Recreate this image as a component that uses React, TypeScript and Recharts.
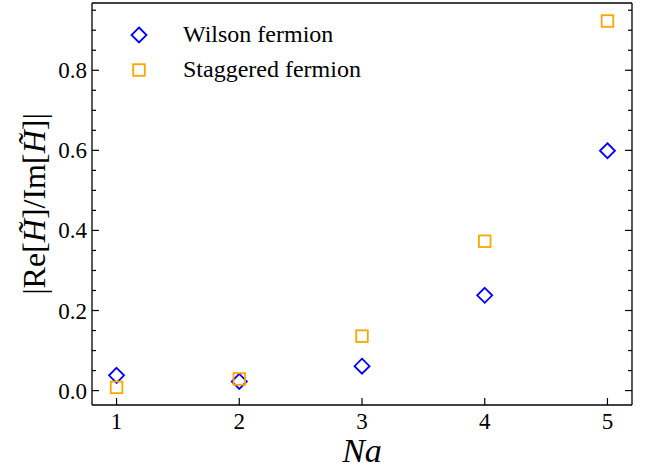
import * as React from 'react';
import { ScatterChart, Scatter, XAxis, YAxis, Legend } from 'recharts';

// ============================================================================
// Data
// ============================================================================

const naValues = [1, 2, 3, 4, 5];
const wilsonRatio = [0.038, 0.023, 0.061, 0.238, 0.599];
const staggeredRatio = [0.008, 0.029, 0.136, 0.373, 0.923];

const xTicks = [1, 2, 3, 4, 5];
const yTicks = [0, 0.05, 0.1, 0.15, 0.2, 0.25, 0.3, 0.35, 0.4, 0.45, 0.5, 0.55, 0.6, 0.65, 0.7, 0.75, 0.8, 0.85, 0.9, 0.95];
const yMajorTicks = [0, 0.2, 0.4, 0.6, 0.8];

const seriesNames = ['Wilson fermion', 'Staggered fermion'];

const FONT = 'Liberation Serif';
const BLUE = '#0000ff';
const ORANGE = '#ffa500';
const MAJOR = 7;
const MINOR = 4;

const wilsonData = naValues.map((na, i) => ({ na, ratio: wilsonRatio[i] }));
const staggeredData = naValues.map((na, i) => ({ na, ratio: staggeredRatio[i] }));

// ============================================================================
// Markers
// ============================================================================

function Diamond({ cx, cy }: any) {
  const r = 7.5;
  return (
    <polygon
      points={`${cx},${cy - r} ${cx + r},${cy} ${cx},${cy + r} ${cx - r},${cy}`}
      fill="none"
      stroke={BLUE}
      strokeWidth={1.8}
    />
  );
}

function Square({ cx, cy }: any) {
  const h = 5.8;
  return (
    <rect x={cx - h} y={cy - h} width={2 * h} height={2 * h} fill="none" stroke={ORANGE} strokeWidth={1.8} />
  );
}

// ============================================================================
// Ticks (drawn inward, matplotlib style)
// ============================================================================

const isMajor = (v: number) => yMajorTicks.some((t) => Math.abs(t - v) < 1e-6);

function bottomTick({ x, y, payload }: any) {
  return (
    <g>
      <line x1={x} x2={x} y1={y} y2={y - MAJOR} stroke="#000" strokeWidth={1.2} />
      <text x={x} y={y + 24} textAnchor="middle" fontFamily={FONT} fontSize={23} fill="#000" stroke="none">
        {payload.value}
      </text>
    </g>
  );
}

function topTick({ x, y }: any) {
  return <line x1={x} x2={x} y1={y} y2={y + MAJOR} stroke="#000" strokeWidth={1.2} />;
}

function leftTick({ x, y, payload }: any) {
  const major = isMajor(payload.value);
  return (
    <g>
      <line x1={x} x2={x + (major ? MAJOR : MINOR)} y1={y} y2={y} stroke="#000" strokeWidth={1.2} />
      {major && (
        <text x={x - 5} y={y + 8} textAnchor="end" fontFamily={FONT} fontSize={23} fill="#000" stroke="none">
          {payload.value.toFixed(1)}
        </text>
      )}
    </g>
  );
}

function rightTick({ x, y, payload }: any) {
  const major = isMajor(payload.value);
  return <line x1={x} x2={x - (major ? MAJOR : MINOR)} y1={y} y2={y} stroke="#000" strokeWidth={1.2} />;
}

// ============================================================================
// Labels and legend
// ============================================================================

function YLabel({ viewBox }: any) {
  const cx = viewBox.x + 34;
  const cy = viewBox.y + viewBox.height / 2;
  return (
    <text
      x={cx}
      y={cy}
      dy="0.35em"
      textAnchor="middle"
      transform={`rotate(-90, ${cx}, ${cy})`}
      fontFamily={FONT}
      fontSize={32}
      fill="#000"
    >
      <tspan>|Re[</tspan>
      <tspan fontStyle="italic">{'H\u0303'}</tspan>
      <tspan>]/Im[</tspan>
      <tspan fontStyle="italic">{'H\u0303'}</tspan>
      <tspan>]|</tspan>
    </text>
  );
}

function XLabel({ viewBox }: any) {
  return (
    <text
      x={viewBox.x + viewBox.width / 2}
      y={462}
      textAnchor="middle"
      fontFamily={FONT}
      fontStyle="italic"
      fontSize={34}
      fill="#000"
    >
      Na
    </text>
  );
}

function LegendContent() {
  return (
    <div style={{ fontFamily: FONT, fontSize: 24, color: '#000' }}>
      {seriesNames.map((name, i) => (
        <div key={name} style={{ display: 'flex', alignItems: 'center', height: 35 }}>
          <svg width={20} height={20}>
            {i === 0 ? <Diamond cx={10} cy={10} /> : <Square cx={10} cy={10} />}
          </svg>
          <span style={{ marginLeft: 34, lineHeight: '35px', whiteSpace: 'nowrap' }}>{name}</span>
        </div>
      ))}
    </div>
  );
}

// ============================================================================
// Component
// ============================================================================

export default function App() {
  return (
    <div style={{ position: 'absolute', left: 0, top: 0, background: '#fff' }}>
      <ScatterChart width={657} height={473} margin={{ top: 2, right: 24, bottom: 0, left: 0 }}>
        <XAxis
          xAxisId="bottom"
          type="number"
          dataKey="na"
          domain={[0.8, 5.2]}
          ticks={xTicks}
          height={68}
          tickSize={0}
          tickMargin={0}
          tickLine={false}
          axisLine={{ stroke: '#000', strokeWidth: 1.3 }}
          tick={bottomTick}
          label={<XLabel />}
          allowDataOverflow
        />
        <XAxis
          xAxisId="top"
          orientation="top"
          type="number"
          domain={[0.8, 5.2]}
          ticks={xTicks}
          height={1}
          tickSize={0}
          tickMargin={0}
          tickLine={false}
          axisLine={{ stroke: '#000', strokeWidth: 1.3 }}
          tick={topTick}
          allowDataOverflow
        />
        <YAxis
          yAxisId="left"
          type="number"
          dataKey="ratio"
          domain={[-0.036, 0.968]}
          ticks={yTicks}
          width={92}
          tickSize={0}
          tickMargin={0}
          tickLine={false}
          axisLine={{ stroke: '#000', strokeWidth: 1.3 }}
          tick={leftTick}
          label={<YLabel />}
          interval={0}
          allowDataOverflow
        />
        <YAxis
          yAxisId="right"
          orientation="right"
          type="number"
          domain={[-0.036, 0.968]}
          ticks={yTicks}
          width={1}
          tickSize={0}
          tickMargin={0}
          tickLine={false}
          axisLine={{ stroke: '#000', strokeWidth: 1.3 }}
          tick={rightTick}
          interval={0}
          allowDataOverflow
        />
        <Legend
          layout="vertical"
          verticalAlign="middle"
          align="center"
          content={<LegendContent />}
          wrapperStyle={{ left: 129, top: 17, width: 'auto' }}
        />
        <Scatter
          name={seriesNames[0]}
          data={wilsonData}
          xAxisId="bottom"
          yAxisId="left"
          shape={<Diamond />}
          isAnimationActive={false}
        />
        <Scatter
          name={seriesNames[1]}
          data={staggeredData}
          xAxisId="bottom"
          yAxisId="left"
          shape={<Square />}
          isAnimationActive={false}
        />
      </ScatterChart>
    </div>
  );
}
